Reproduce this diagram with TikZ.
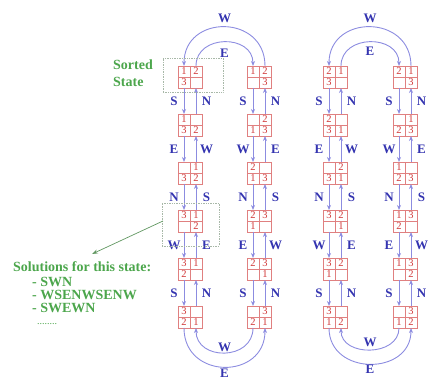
\documentclass[tikz,border=0pt]{standalone}
\usepackage{fontspec}
\setmainfont{Liberation Serif}
\usetikzlibrary{arrows.meta}
\definecolor{gridred}{HTML}{E08080}
\definecolor{numred}{HTML}{D03838}
\definecolor{arrblue}{HTML}{8C8CE0}
\definecolor{labblue}{HTML}{3434B0}
\definecolor{txtgreen}{HTML}{4CA64C}
\definecolor{boxgray}{HTML}{A8B8A8}
\newcommand{\mkgrid}[7]{%
  \node[cell] (#1-a) at ({#2-6},{#3+5.5}) {#4};
  \node[cell] (#1-b) at ({#2+6},{#3+5.5}) {#5};
  \node[cell] (#1-c) at ({#2-6},{#3+16.5}) {#6};
  \node[cell] (#1-d) at ({#2+6},{#3+16.5}) {#7};
}
\begin{document}
\begin{tikzpicture}[x=1pt,y=-1pt,
  cell/.style={draw=gridred, line width=0.8pt, minimum width=12pt, minimum height=11pt,
    inner sep=0pt, outer sep=0pt, font=\fontsize{10.5}{10.5}\selectfont, text=numred},
  mv/.style={draw=arrblue, line width=0.9pt, -{Stealth[length=5pt,width=4pt]}},
  lab/.style={font=\fontsize{13}{13}\selectfont\bfseries, text=labblue, inner sep=0pt},
  gtext/.style={font=\fontsize{14}{17}\selectfont\bfseries, text=txtgreen, inner sep=0pt, align=left},
  dashbox/.style={draw=boxgray, densely dotted, line width=0.7pt, inner sep=0pt},
  garrow/.style={draw=txtgreen!60!gray, line width=0.7pt, -{Stealth[length=6pt,width=4pt]}}
]
\useasboundingbox (0,0) rectangle (429,379);
% column 1
\mkgrid{g-1-1}{190}{66}{1}{2}{3}{}
\mkgrid{g-1-2}{190}{114}{1}{}{3}{2}
\mkgrid{g-1-3}{190}{162}{}{1}{3}{2}
\mkgrid{g-1-4}{190}{210}{3}{1}{}{2}
\mkgrid{g-1-5}{190}{258}{3}{1}{2}{}
\mkgrid{g-1-6}{190}{306}{3}{}{2}{1}
% column 2
\mkgrid{g-2-1}{259}{66}{1}{2}{}{3}
\mkgrid{g-2-2}{259}{114}{}{2}{1}{3}
\mkgrid{g-2-3}{259}{162}{2}{}{1}{3}
\mkgrid{g-2-4}{259}{210}{2}{3}{1}{}
\mkgrid{g-2-5}{259}{258}{2}{3}{}{1}
\mkgrid{g-2-6}{259}{306}{}{3}{2}{1}
% column 3
\mkgrid{g-3-1}{335}{66}{2}{1}{3}{}
\mkgrid{g-3-2}{335}{114}{2}{}{3}{1}
\mkgrid{g-3-3}{335}{162}{}{2}{3}{1}
\mkgrid{g-3-4}{335}{210}{3}{2}{}{1}
\mkgrid{g-3-5}{335}{258}{3}{2}{1}{}
\mkgrid{g-3-6}{335}{306}{3}{}{1}{2}
% column 4
\mkgrid{g-4-1}{405}{66}{2}{1}{}{3}
\mkgrid{g-4-2}{405}{114}{}{1}{2}{3}
\mkgrid{g-4-3}{405}{162}{1}{}{2}{3}
\mkgrid{g-4-4}{405}{210}{1}{3}{2}{}
\mkgrid{g-4-5}{405}{258}{1}{3}{}{2}
\mkgrid{g-4-6}{405}{306}{}{3}{1}{2}
% vertical moves
\foreach \c/\x/\lst in {1/190/{S/N,E/W,N/S,W/E,S/N},2/259/{S/N,W/E,N/S,E/W,S/N},3/335/{S/N,E/W,N/S,W/E,S/N},4/405/{S/N,W/E,N/S,E/W,S/N}}{
  \foreach [count=\k] \l/\r in \lst {
    \pgfmathtruncatemacro{\kk}{\k+1}
    \draw[mv] (g-\c-\k-c.south) -- (g-\c-\kk-a.north);
    \draw[mv] (g-\c-\kk-b.north) -- (g-\c-\k-d.south);
    \node[lab] (l-\c-\k) at ({\x-16},{101+48*(\k-1)}) {\l};
    \node[lab] (r-\c-\k) at ({\x+16.5},{101+48*(\k-1)}) {\r};
  }
}
% arcs left pair
\draw[mv] (g-2-1-b.north) .. controls +(0,-52) and +(0,-52) .. (g-1-1-a.north);
\draw[mv] (g-1-1-b.north) .. controls +(0,-32) and +(0,-32) .. (g-2-1-a.north);
\draw[mv] (g-1-6-c.south) .. controls +(0,52) and +(0,52) .. (g-2-6-d.south);
\draw[mv] (g-2-6-c.south) .. controls +(0,33) and +(0,33) .. (g-1-6-d.south);
\node[lab] (tw1) at (224.5,18) {W};
\node[lab] (te1) at (224.5,53) {E};
\node[lab] (bw1) at (224.5,347) {W};
\node[lab] (be1) at (224.5,373) {E};
% arcs right pair
\draw[mv] (g-4-1-b.north) .. controls +(0,-52) and +(0,-52) .. (g-3-1-a.north);
\draw[mv] (g-3-1-b.north) .. controls +(0,-32) and +(0,-32) .. (g-4-1-a.north);
\draw[mv] (g-3-6-c.south) .. controls +(0,48) and +(0,48) .. (g-4-6-d.south);
\draw[mv] (g-4-6-c.south) .. controls +(0,29) and +(0,29) .. (g-3-6-d.south);
\node[lab] (tw2) at (370,18) {W};
\node[lab] (te2) at (370,51) {E};
\node[lab] (bw2) at (370,342) {W};
\node[lab] (be2) at (370,369) {E};
% annotations
\node[dashbox, minimum width=60pt, minimum height=34pt] (sortbox) at (193,75) {};
\node[dashbox, minimum width=57pt, minimum height=43pt] (solbox) at (190.5,224.5) {};
\node[gtext, anchor=west] (sorted) at (113,73) {Sorted\\State};
\node[gtext, anchor=west] (sol0) at (13,267) {Solutions for this state:};
\node[gtext, anchor=west] (sol1) at (32,282) {- SWN};
\node[gtext, anchor=west] (sol2) at (32,295) {- WSENWSENW};
\node[gtext, anchor=west] (sol3) at (32,308) {- SWEWN};
\node[gtext, anchor=west, font=\fontsize{10}{10}\selectfont] (sol4) at (37,324) {........};
\coordinate (gs) at (163,221);
\coordinate (ge) at (92,254);
\draw[garrow] (gs) -- (ge);
\end{tikzpicture}
\end{document}
